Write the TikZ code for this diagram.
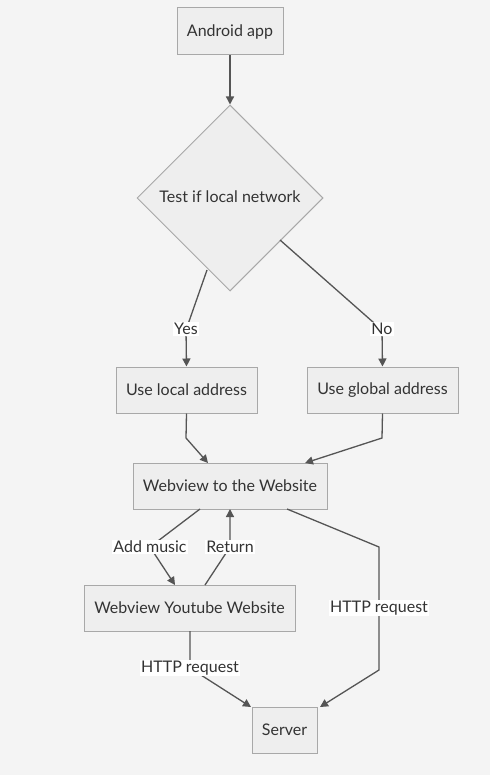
\documentclass[tikz,border=0pt]{standalone}
\usepackage{fontspec}
\setmainfont{Lato}
\usetikzlibrary{shapes.geometric,arrows.meta}
\definecolor{bg}{HTML}{F4F4F4}
\definecolor{boxfill}{HTML}{EEEEEE}
\definecolor{boxline}{HTML}{A8A8A8}
\definecolor{txt}{HTML}{333333}
\definecolor{edge}{HTML}{555555}
\begin{document}
\begin{tikzpicture}[x=1pt,y=-1pt,
  box/.style={draw=boxline,fill=boxfill,line width=1pt,text=txt,font=\fontsize{16}{18}\selectfont,inner sep=0pt,anchor=center},
  lbl/.style={fill=white,text=txt,font=\fontsize{16}{18}\selectfont,inner sep=1pt},
  conn/.style={draw=edge,line width=1.3pt,-{Triangle[length=8pt,width=8pt]}},
  line/.style={draw=edge,line width=1.3pt}]
\fill[bg] (0,0) rectangle (490,775);
\useasboundingbox (0,0) rectangle (490,775);
\node[box,minimum width=106pt,minimum height=47pt] (android) at (230,31.5) {Android app};
\node[box,diamond,minimum width=186pt,minimum height=186pt,aspect=1] (test) at (230,198) {};
\node[text=txt,font=\fontsize{16}{18}\selectfont] (testlbl) at (230,197) {Test if local network};
\node[box,minimum width=141pt,minimum height=46pt] (local) at (186.5,390) {Use local address};
\node[box,minimum width=151pt,minimum height=46pt] (global) at (382.5,390) {Use global address};
\node[box,minimum width=194pt,minimum height=46pt] (web) at (230,486) {Webview to the Website};
\node[box,minimum width=211pt,minimum height=46pt] (yt) at (189.5,608) {Webview Youtube Website};
\node[box,minimum width=65pt,minimum height=46pt] (server) at (284.5,730) {Server};

\coordinate (y1) at (207,270);
\coordinate (n1) at (280,240);
\coordinate (l1) at (186,438);
\coordinate (g1) at (382,438);
\coordinate (w1) at (200,509);
\coordinate (r1) at (205,585);
\coordinate (h1) at (287,509);
\coordinate (h2) at (379,547);
\coordinate (h3) at (379,670);
\coordinate (y2) at (190,631);
\coordinate (y3) at (190,668);

\draw[conn] (android) -- (test.north);
\draw[conn] (y1) -- (186,330) -- (local.north);
\node[lbl] (yes) at (186,329) {Yes};
\draw[conn] (n1) -- (382,330) -- (global.north);
\node[lbl] (no) at (382,329) {No};
\draw[conn] (local.south) -- (l1) -- (208,463);
\draw[conn] (global.south) -- (g1) -- (305,463);
\draw[conn] (w1) -- (150,547) -- (175,585);
\node[lbl] (add) at (150,547) {Add music};
\draw[conn] (r1) -- (230,547) -- (230,509);
\node[lbl] (ret) at (230,547) {Return};
\draw[conn] (h1) -- (h2) -- (h3) -- (320,707);
\node[lbl] (http1) at (379,608) {HTTP request};
\draw[conn] (y2) -- (y3) -- (251,707);
\node[lbl] (http2) at (190,668) {HTTP request};
\end{tikzpicture}
\end{document}
